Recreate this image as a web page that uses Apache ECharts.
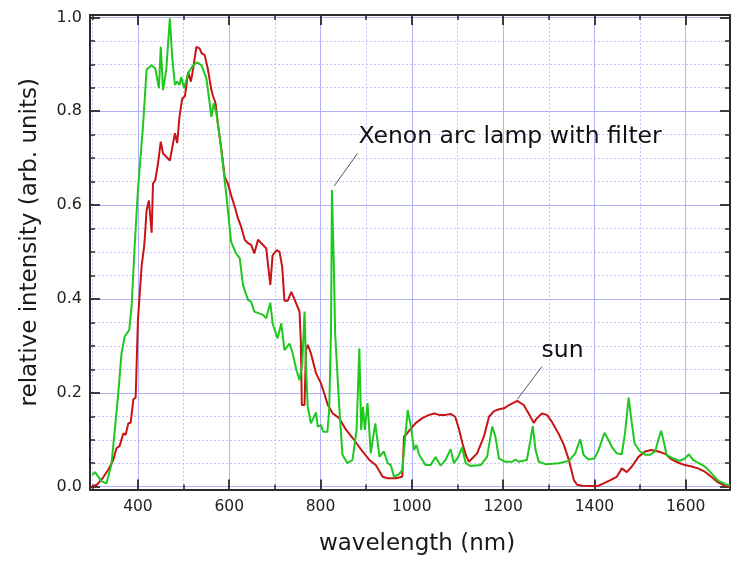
<!DOCTYPE html>
<html>
<head>
<meta charset="utf-8">
<script src="https://cdn.jsdelivr.net/npm/echarts@6/dist/echarts.min.js"></script>
<style>
html,body{margin:0;padding:0;background:#fff;}
#chart{width:733px;height:563px;}
</style>
</head>
<body>
<div id="chart"></div>
<script>
// ---- data ----
const xenonWavelength = [300,306,320,331,342,350,357,364,371,381,386,393,400,411,419,430,438,446,450,455,462,470,475,481,486,491,495,501,510,521,530,539,550,561,566,572,579,586,594,604,615,623,630,641,648,655,659,674,681,690,695,706,714,721,732,739,747,754,760,765,768,772,779,790,794,801,806,815,819,823,825,829,832,836,841,848,859,870,879,885,889,893,897,903,910,920,929,939,947,954,961,972,979,985,991,998,1005,1010,1016,1030,1041,1052,1063,1074,1085,1092,1102,1110,1118,1129,1151,1165,1176,1183,1191,1205,1220,1227,1234,1252,1260,1265,1271,1278,1293,1322,1344,1358,1369,1376,1387,1400,1409,1422,1431,1438,1449,1460,1467,1475,1481,1488,1500,1512,1522,1533,1540,1546,1551,1558,1573,1587,1598,1607,1616,1627,1642,1656,1671,1686,1697];
const xenonIntensity = [0.025,0.031,0.012,0.007,0.048,0.128,0.2,0.284,0.32,0.334,0.383,0.515,0.632,0.767,0.889,0.898,0.891,0.849,0.937,0.845,0.888,0.998,0.916,0.856,0.863,0.856,0.873,0.849,0.881,0.898,0.904,0.898,0.87,0.788,0.817,0.795,0.746,0.689,0.618,0.522,0.497,0.487,0.43,0.398,0.394,0.373,0.371,0.366,0.359,0.392,0.348,0.316,0.348,0.291,0.305,0.284,0.249,0.227,0.263,0.373,0.263,0.17,0.135,0.158,0.128,0.131,0.117,0.117,0.163,0.334,0.632,0.476,0.327,0.327,0.17,0.068,0.05,0.057,0.121,0.295,0.121,0.17,0.121,0.178,0.071,0.135,0.064,0.075,0.05,0.046,0.021,0.027,0.035,0.1,0.163,0.128,0.078,0.089,0.068,0.046,0.046,0.063,0.045,0.057,0.08,0.05,0.064,0.084,0.05,0.044,0.046,0.064,0.128,0.107,0.06,0.053,0.053,0.058,0.053,0.057,0.1,0.129,0.078,0.053,0.048,0.05,0.055,0.071,0.101,0.068,0.058,0.06,0.078,0.115,0.099,0.085,0.071,0.069,0.114,0.19,0.142,0.092,0.075,0.068,0.068,0.075,0.1,0.119,0.1,0.068,0.06,0.055,0.06,0.069,0.057,0.051,0.043,0.029,0.013,0.006,0.002];

const sunWavelength = [299,310,324,335,346,353,360,368,373,379,384,390,395,397,400,408,414,419,424,430,433,438,444,450,455,462,470,477,481,486,491,497,503,510,516,521,528,535,540,546,553,561,564,570,575,583,590,597,605,612,619,626,634,641,648,655,663,674,681,690,695,704,710,716,721,728,736,743,754,757,759,765,768,772,779,790,801,808,816,827,841,856,874,892,907,921,936,947,965,979,983,990,998,1009,1023,1038,1049,1060,1074,1085,1095,1103,1111,1118,1125,1132,1143,1158,1169,1180,1191,1202,1213,1231,1245,1256,1267,1274,1285,1296,1307,1322,1333,1344,1355,1362,1373,1395,1409,1420,1435,1449,1460,1471,1482,1497,1511,1524,1540,1555,1569,1584,1598,1613,1627,1642,1656,1671,1686,1697];
const sunIntensity = [0.0,0.004,0.02,0.036,0.057,0.082,0.087,0.114,0.11,0.135,0.136,0.186,0.19,0.256,0.355,0.469,0.515,0.589,0.61,0.541,0.646,0.653,0.689,0.735,0.71,0.703,0.695,0.732,0.753,0.732,0.788,0.827,0.832,0.884,0.863,0.891,0.937,0.934,0.923,0.92,0.891,0.845,0.834,0.817,0.774,0.717,0.66,0.646,0.618,0.597,0.572,0.554,0.526,0.519,0.515,0.497,0.526,0.515,0.508,0.43,0.493,0.504,0.501,0.469,0.396,0.396,0.415,0.399,0.373,0.305,0.174,0.174,0.291,0.302,0.284,0.242,0.22,0.199,0.174,0.156,0.146,0.121,0.099,0.075,0.057,0.046,0.021,0.018,0.018,0.021,0.107,0.114,0.124,0.136,0.146,0.153,0.156,0.153,0.153,0.155,0.149,0.124,0.092,0.068,0.053,0.06,0.071,0.107,0.149,0.161,0.165,0.167,0.174,0.183,0.174,0.156,0.136,0.146,0.156,0.153,0.138,0.112,0.089,0.057,0.014,0.004,0.002,0.0015,0.002,0.007,0.014,0.021,0.039,0.031,0.043,0.064,0.075,0.078,0.075,0.07,0.058,0.051,0.046,0.043,0.039,0.032,0.021,0.009,0.0015,0];

const xRange = [295, 1697];
const yRange = [-0.006, 1.005];
const xLabelStep = 200;
const yLabelStep = 0.2;

// annotation anchors (data coordinates)
const xenonLabel = {text: 'Xenon arc lamp with filter', at: [882, 0.7445], leader: [[881, 0.710], [830, 0.641]]};
const sunLabel = {text: 'sun', at: [1283, 0.289], leader: [[1285, 0.256], [1231, 0.186]]};

// ---- chart ----
const FONT = 'DejaVu Sans';
const AXIS_COLOR = '#2b2b2b';
const MAJOR_GRID = 'rgb(176,176,246)';
const MINOR_GRID = 'rgb(196,196,246)';

function zip(xs, ys) { return xs.map((x, i) => [x, ys[i]]); }

function xAxisCfg(pos, labels) {
  return {
    type: 'value', position: pos, min: xRange[0], max: xRange[1], splitNumber: 7,
    name: labels ? 'wavelength (nm)' : '', nameLocation: 'middle', nameGap: 43,
    nameTextStyle: {fontFamily: FONT, fontSize: 23, color: '#1a1a1a', padding: [0, 0, 0, 14]},
    axisLine: {show: true, onZero: false, lineStyle: {color: AXIS_COLOR, width: 2}},
    axisTick: {show: true, inside: true, length: 10, lineStyle: {color: AXIS_COLOR, width: 1.8}},
    minorTick: {show: true, splitNumber: 2, length: 5, lineStyle: {color: AXIS_COLOR, width: 1.5}},
    axisLabel: {show: labels, margin: 9, fontFamily: FONT, fontSize: 15.5, color: '#222',
      formatter: v => (Math.abs(v % xLabelStep) < 1e-6 ? String(v) : '')},
    splitLine: {show: labels, showMinLine: false, showMaxLine: false, lineStyle: {color: MAJOR_GRID, width: 1}},
    minorSplitLine: {show: labels, lineStyle: {color: MINOR_GRID, width: 1, type: [2, 2]}}
  };
}
function yAxisCfg(pos, labels) {
  return {
    type: 'value', position: pos, min: yRange[0], max: yRange[1], splitNumber: 5,
    name: labels ? 'relative intensity (arb. units)' : '', nameLocation: 'middle', nameGap: 48,
    nameTextStyle: {fontFamily: FONT, fontSize: 23, color: '#1a1a1a', padding: [0, 0, 0, 20]},
    axisLine: {show: true, onZero: false, lineStyle: {color: AXIS_COLOR, width: 2}},
    axisTick: {show: true, inside: true, length: 10, lineStyle: {color: AXIS_COLOR, width: 1.8}},
    minorTick: {show: true, splitNumber: 4, length: 5, lineStyle: {color: AXIS_COLOR, width: 1.5}},
    axisLabel: {show: labels, margin: 8, fontFamily: FONT, fontSize: 16, color: '#222',
      formatter: v => {
        const k = Math.round(v / yLabelStep);
        return Math.abs(v - k * yLabelStep) < 1e-6 ? (k * yLabelStep).toFixed(1) : '';
      }},
    splitLine: {show: labels, showMinLine: false, showMaxLine: false, lineStyle: {color: MAJOR_GRID, width: 1}},
    minorSplitLine: {show: labels, lineStyle: {color: MINOR_GRID, width: 1, type: [2, 2]}}
  };
}

function annotation(a) {
  return {
    markLine: {
      silent: true, animation: false, symbol: ['none', 'none'],
      lineStyle: {color: '#555', width: 1, type: 'solid'}, label: {show: false},
      data: [[{coord: a.leader[0]}, {coord: a.leader[1]}]]
    },
    markPoint: {
      silent: true, animation: false, symbol: 'circle', symbolSize: 1,
      itemStyle: {color: 'rgba(0,0,0,0)'},
      label: {show: true, position: 'right', distance: 0, formatter: a.text,
        fontFamily: FONT, fontSize: 23.5, color: '#111'},
      data: [{coord: a.at}]
    }
  };
}

const chart = echarts.init(document.getElementById('chart'), null, {renderer: 'canvas'});
chart.setOption({
  animation: false,
  backgroundColor: '#fff',
  grid: {left: 90, right: 1, top: 15, bottom: 73.5, containLabel: false},
  xAxis: [xAxisCfg('bottom', true), xAxisCfg('top', false)],
  yAxis: [yAxisCfg('left', true), yAxisCfg('right', false)],
  series: [
    Object.assign({
      name: 'sun', type: 'line', xAxisIndex: 0, yAxisIndex: 0, showSymbol: false, symbol: 'none',
      data: zip(sunWavelength, sunIntensity),
      lineStyle: {color: 'rgb(200,20,20)', width: 2}, itemStyle: {color: 'rgb(200,20,20)'}
    }, annotation(sunLabel)),
    Object.assign({
      name: 'Xenon arc lamp with filter', type: 'line', xAxisIndex: 0, yAxisIndex: 0, showSymbol: false, symbol: 'none',
      data: zip(xenonWavelength, xenonIntensity),
      lineStyle: {color: 'rgb(30,200,30)', width: 2}, itemStyle: {color: 'rgb(30,200,30)'}
    }, annotation(xenonLabel))
  ]
});
</script>
</body>
</html>
